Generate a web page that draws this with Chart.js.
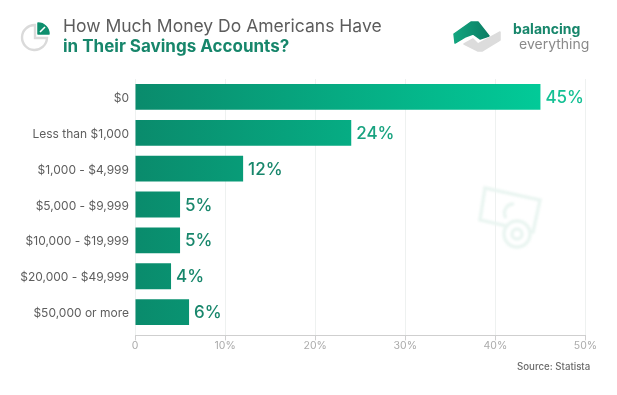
<!DOCTYPE html>
<html>
<head>
<meta charset="utf-8">
<style>
  html, body { margin: 0; padding: 0; background: #fff; }
  #wrap { position: relative; width: 617px; height: 395px; overflow: hidden; font-family: Inter, sans-serif; }
  #chart { position: absolute; left: 0; top: 0; }
  .txt { position: absolute; white-space: nowrap; }
  svg { position: absolute; }
</style>
<script src="https://cdn.jsdelivr.net/npm/chart.js@4"></script>
</head>
<body>
<div id="wrap">
  <canvas id="chart" width="617" height="395"></canvas>

  <!-- title icon -->
  <svg style="left:18px;top:20px" width="34" height="34" viewBox="0 0 34 34">
    <path d="M17 5 A12.5 12.5 0 1 0 29 18 L17 18 Z" fill="none" stroke="#dadada" stroke-width="2.4"/>
    <path d="M20 3 L20 14 L31 14 A11 11 0 0 0 20 3 Z" fill="#0e8f6e" stroke="#0e8f6e" stroke-width="1.5" stroke-linejoin="round"/>
    <path d="M22 12 L27 7" stroke="#fff" stroke-width="1.6"/>
  </svg>
  <div class="txt" style="left:63px;top:15px;font-size:17.5px;color:#5c5c5c">How Much Money Do Americans Have</div>
  <div class="txt" style="left:63px;top:36px;font-size:17px;font-weight:700;color:#17866b">in Their Savings Accounts?</div>

  <!-- logo -->
  <svg style="left:450px;top:18px" width="64" height="36" viewBox="0 0 64 36">
    <defs>
      <linearGradient id="lg" x1="0" y1="0" x2="1" y2="0">
        <stop offset="0" stop-color="#12a57f"/><stop offset="1" stop-color="#0b7d64"/>
      </linearGradient>
    </defs>
    <path d="M4 16 L21 4 L28 4 L39 18 L30 21 L23 16 L15 19 L5 25 Z" fill="url(#lg)" stroke="url(#lg)" stroke-width="1.5" stroke-linejoin="round"/>
    <path d="M14 26 L23 21 L28 26 L50 14 L50 22 L32 33 L28 33 Z" fill="#dcdcdc" stroke="#dcdcdc" stroke-width="1.5" stroke-linejoin="round"/>
  </svg>
  <div class="txt" style="left:513px;top:20px;font-size:14px;font-weight:700;color:#17866b">balancing</div>
  <div class="txt" style="left:519px;top:35px;font-size:14px;color:#8a8a8a">everything</div>

  <!-- faint watermark -->
  <svg style="left:476px;top:184px;filter:blur(1px)" width="70" height="70" viewBox="0 0 70 70" fill="none" stroke="#eaf5f1" stroke-width="3.5">
    <path d="M9 4 L64 16 L57 48 L4 36 Z"/>
    <path d="M38 20 A9 9 0 0 0 30 34"/>
    <circle cx="41" cy="50" r="13" fill="#fff"/>
    <circle cx="41" cy="50" r="5"/>
  </svg>

  <div class="txt" style="left:517px;top:361px;font-size:9.7px;font-weight:500;color:#6a6a6a">Source: Statista</div>
</div>

<script>
const categories = ["$0", "Less than $1,000", "$1,000 - $4,999", "$5,000 - $9,999", "$10,000 - $19,999", "$20,000 - $49,999", "$50,000 or more"];
const savingsShare = [45, 24, 12, 5, 5, 4, 6];
const valueTicks = [0, 10, 20, 30, 40, 50];
const valueLabelColors = ["#14c094", "#17a27f", "#17866b", "#17866b", "#17866b", "#17866b", "#17866b"];

// labels at the bar ends, the library has no built in option for this
const barValueLabels = {
  id: "barValueLabels",
  afterDatasetsDraw(chart) {
    const ctx = chart.ctx;
    const bars = chart.getDatasetMeta(0).data;
    ctx.save();
    ctx.font = "500 17px Inter, sans-serif";
    ctx.textAlign = "left";
    ctx.textBaseline = "middle";
    bars.forEach((bar, i) => {
      ctx.fillStyle = valueLabelColors[i];
      ctx.fillText(savingsShare[i] + "%", bar.x + 5, bar.y + 1);
    });
    ctx.restore();
  }
};

function barGradient(context) {
  const chart = context.chart;
  if (!chart.chartArea) return "#0e8f6e";
  const x = chart.scales.x;
  const g = chart.ctx.createLinearGradient(x.getPixelForValue(0), 0, x.getPixelForValue(45), 0);
  g.addColorStop(0, "#0a8b6c");
  g.addColorStop(1, "#02ca98");
  return g;
}

new Chart(document.getElementById("chart"), {
  type: "bar",
  data: {
    labels: categories.map((c, i) => i),
    datasets: [{
      data: savingsShare.map((v, i) => ({ x: v, y: i })),
      backgroundColor: barGradient,
      categoryPercentage: 1,
      barPercentage: 0.72
    }]
  },
  options: {
    indexAxis: "y",
    responsive: false,
    animation: false,
    layout: { padding: { left: 0, right: 31.5, top: 79, bottom: 44 } },
    plugins: { legend: { display: false }, tooltip: { enabled: false } },
    scales: {
      x: {
        type: "linear",
        min: 0,
        max: 50,
        afterBuildTicks(axis) { axis.ticks = valueTicks.map(v => ({ value: v })); },
        ticks: {
          color: "#ababab",
          padding: -1,
          maxRotation: 0,
          font: { family: "Inter, sans-serif", size: 10.5 },
          callback: v => v === 0 ? "0" : v + "%"
        },
        grid: { color: "#eef1f0", tickColor: "#cfcfcf", tickLength: 5 },
        border: { color: "#cfcfcf" }
      },
      y: {
        // linear so the axis can sit a few pixels below the last band, like the source
        type: "linear",
        reverse: true,
        offset: false,
        min: -0.5,
        max: 6.65,
        afterBuildTicks(axis) { axis.ticks = categories.map((c, i) => ({ value: i })); },
        afterFit(axis) { axis.width = 135; },
        ticks: {
          color: "#5e5e5e",
          padding: 6,
          labelOffset: 1.5,
          autoSkip: false,
          font: { family: "Inter, sans-serif", size: 12 },
          callback: v => categories[v]
        },
        grid: { display: false, drawTicks: false, offset: false },
        border: { display: false }
      }
    }
  },
  plugins: [barValueLabels]
});
</script>
</body>
</html>
